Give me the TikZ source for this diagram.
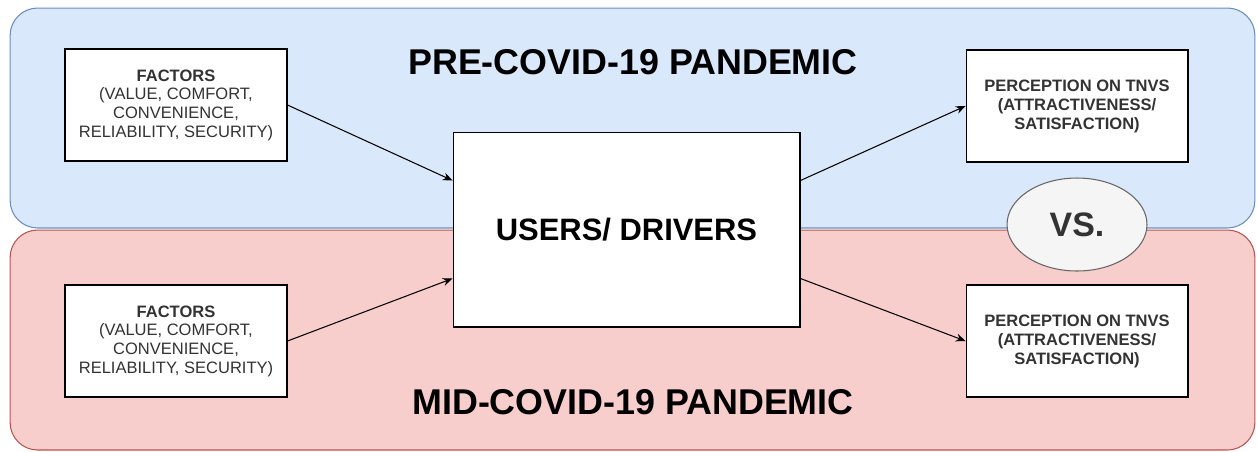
\documentclass[tikz,border=0pt]{standalone}
\usepackage{fontspec}
\setmainfont{Liberation Sans}
\usepackage{tikz}
\usepackage{xcolor}
\usetikzlibrary{positioning, shapes, calc, arrows.meta}

\definecolor{preblue}{HTML}{DAE8FC}
\definecolor{preedge}{HTML}{6C8EBF}
\definecolor{midred}{HTML}{F8CECC}
\definecolor{midedge}{HTML}{B85450}
\definecolor{vsfill}{HTML}{F5F5F5}
\definecolor{vsedge}{HTML}{666666}
\definecolor{textgrey}{HTML}{333333}

\begin{document}
\begin{tikzpicture}[x=0.02cm, y=-0.02cm,
    region/.style={rectangle, rounded corners=0.55cm, line width=0.6pt, minimum width=24.9cm, minimum height=4.4cm},
    box/.style={rectangle, draw=black, fill=white, line width=0.6pt, align=center, text=textgrey, font=\fontsize{9.4}{10.6}\selectfont, minimum width=4.44cm, minimum height=2.24cm},
    title/.style={font=\bfseries\fontsize{20.4}{24}\selectfont},
    link/.style={line width=0.6pt, -{Stealth[length=5.5pt, width=4.5pt]}},
  ]
  \useasboundingbox (0,0) rectangle (1257,451);

  % the two periods
  \node[region, fill=preblue, draw=preedge] (pre) at (632.5, 118) {};
  \node[region, fill=midred, draw=midedge] (mid) at (632.5, 340) {};
  \node[title] (pretitle) at (633, 62) {PRE-COVID-19 PANDEMIC};
  \node[title] (midtitle) at (633, 402) {MID-COVID-19 PANDEMIC};

  % boxes
  \node[box] (fac1) at (176, 105) {\textbf{FACTORS}\\(VALUE, COMFORT,\\CONVENIENCE,\\RELIABILITY, SECURITY)};
  \node[box] (fac2) at (176, 341) {\textbf{FACTORS}\\(VALUE, COMFORT,\\CONVENIENCE,\\RELIABILITY, SECURITY)};
  \node[box, text=black, minimum width=6.94cm, minimum height=3.9cm, font=\bfseries\fontsize{17.6}{20}\selectfont] (users) at (626.5, 229.5) {USERS/ DRIVERS};
  \node[box, font=\bfseries\fontsize{9.4}{10.8}\selectfont] (per1) at (1077, 106) {PERCEPTION ON TNVS\\(ATTRACTIVENESS/\\SATISFACTION)};
  \node[box, font=\bfseries\fontsize{9.4}{10.8}\selectfont] (per2) at (1077, 341) {PERCEPTION ON TNVS\\(ATTRACTIVENESS/\\SATISFACTION)};
  \node[ellipse, draw=vsedge, fill=vsfill, line width=0.6pt, minimum width=2.8cm, minimum height=1.86cm, text=textgrey, font=\bfseries\fontsize{19.3}{22}\selectfont] (vs) at (1077, 224.5) {VS.};

  % links
  \draw[link] (fac1.east) -- ($(users.north west)!0.25!(users.south west)$);
  \draw[link] (fac2.east) -- ($(users.north west)!0.75!(users.south west)$);
  \draw[link] ($(users.north east)!0.25!(users.south east)$) -- (per1.west);
  \draw[link] ($(users.north east)!0.75!(users.south east)$) -- (per2.west);
\end{tikzpicture}
\end{document}
